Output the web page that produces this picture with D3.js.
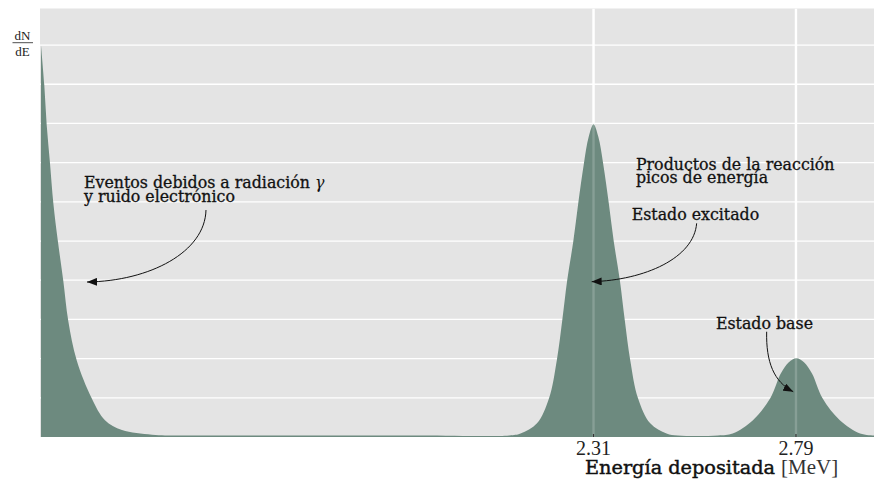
<!DOCTYPE html>
<html>
<head>
<meta charset="utf-8">
<script src="https://cdn.jsdelivr.net/npm/d3@7"></script>
<style>
  html, body { margin: 0; padding: 0; background: #ffffff; }
  svg { display: block; }
</style>
</head>
<body>
<script>
// ---------------- data ----------------
const energy = [
  1.000, 1.0078, 1.0135, 1.0213, 1.0292, 1.0396, 1.0529, 1.0647, 1.0846, 1.1202,
  1.1517, 1.1920, 1.2632, 1.33, 1.60, 1.90, 2.110,
  2.137, 2.176, 2.2045, 2.223, 2.2358, 2.2476, 2.2619, 2.2737, 2.2872, 2.2986, 2.31,
  2.3214, 2.3328, 2.3463, 2.3581, 2.3724, 2.3842, 2.397, 2.4155, 2.4444, 2.4831, 2.51,
  2.605, 2.640, 2.688, 2.729, 2.754, 2.773, 2.791, 2.809, 2.828, 2.853, 2.894, 2.942, 2.975
];
const counts = [
  10.0, 8.98, 7.96, 6.99, 5.97, 5.03, 3.98, 2.96, 1.96, 0.99,
  0.43, 0.18, 0.06, 0.04, 0.04, 0.04, 0.04,
  0.09, 0.35, 0.99, 1.96, 2.97, 4.0, 4.98, 5.96, 6.98, 7.66, 7.98,
  7.66, 6.98, 5.96, 4.98, 4.0, 2.97, 1.96, 0.99, 0.35, 0.09, 0.04,
  0.04, 0.09, 0.43, 0.99, 1.62, 1.91, 2.01, 1.91, 1.62, 0.99, 0.43, 0.09, 0.04
];
const xTickValues = [2.31, 2.79];
const xTickLabels = ["2.31", "2.79"];
const yGridValues = [1, 2, 3, 4, 5, 6, 7, 8, 9, 10];

const annotationTexts = [
  ["Eventos debidos a radiación ", "y ruido electrónico"],
  ["Productos de la reacción", "picos de energía"],
  ["Estado excitado"],
  ["Estado base"]
];
const annotationAnchors = [[1.1019, 6.35], [2.4106, 6.81], [2.4004, 5.54], [2.6003, 2.75]];
const arrowPaths = [
  [[1.3912, 5.791], [1.3888, 4.719], [1.2584, 3.980], [1.1091, 3.954]],
  [[2.5545, 5.452], [2.5481, 4.566], [2.4320, 4.005], [2.3056, 3.962]],
  [[2.7205, 2.686], [2.7188, 1.913], [2.7378, 1.403], [2.7836, 1.156]]
];

// ---------------- layout ----------------
const W = 874, H = 481;
const panel = { left: 40, right: 874, top: 8.5, bottom: 437 };

const x = d3.scaleLinear().domain([1.0, 2.975]).range([41, 874]);
const y = d3.scaleLinear().domain([0, 10.92]).range([437, 9]);

const svg = d3.select("body").append("svg")
  .attr("width", W).attr("height", H);

const defs = svg.append("defs");
defs.append("clipPath").attr("id", "clip")
  .append("rect")
  .attr("x", panel.left).attr("y", panel.top)
  .attr("width", panel.right - panel.left).attr("height", panel.bottom - panel.top);
defs.append("marker")
  .attr("id", "arrow")
  .attr("markerUnits", "userSpaceOnUse")
  .attr("viewBox", "0 0 10 8")
  .attr("refX", 10).attr("refY", 4)
  .attr("markerWidth", 10).attr("markerHeight", 8)
  .attr("orient", "auto")
  .append("path").attr("d", "M0,0 L10,4 L0,8 Z").attr("fill", "#111");

// panel background
svg.append("rect")
  .attr("x", panel.left).attr("y", panel.top)
  .attr("width", panel.right - panel.left).attr("height", panel.bottom - panel.top)
  .attr("fill", "#e4e4e4");

const g = svg.append("g").attr("clip-path", "url(#clip)");

// horizontal gridlines
g.selectAll("line.hgrid").data(yGridValues).enter().append("line")
  .attr("class", "hgrid")
  .attr("x1", panel.left).attr("x2", panel.right)
  .attr("y1", d => y(d)).attr("y2", d => y(d))
  .attr("stroke", "#ffffff").attr("stroke-width", 1.3);

// vertical gridlines
g.selectAll("line.vgrid").data(xTickValues).enter().append("line")
  .attr("class", "vgrid")
  .attr("x1", d => x(d)).attr("x2", d => x(d))
  .attr("y1", panel.top).attr("y2", panel.bottom)
  .attr("stroke", "#ffffff").attr("stroke-width", 2.4);

// area
const area = d3.area()
  .x((d, i) => x(energy[i]))
  .y0(y(0))
  .y1((d, i) => y(Math.max(0, counts[i])))
  .curve(d3.curveCatmullRom.alpha(0.5));

g.append("path")
  .datum(counts)
  .attr("d", area)
  .attr("fill", "#6d8a7f");

// vertical gridlines showing faintly through the fill
g.selectAll("line.vgrid2").data(xTickValues).enter().append("line")
  .attr("x1", d => x(d)).attr("x2", d => x(d))
  .attr("y1", panel.top).attr("y2", panel.bottom)
  .attr("stroke", "#ffffff").attr("stroke-opacity", 0.18).attr("stroke-width", 2.4);

// small tick marks at the bottom
svg.selectAll("line.tick").data(xTickValues).enter().append("line")
  .attr("x1", d => x(d)).attr("x2", d => x(d))
  .attr("y1", panel.bottom - 3).attr("y2", panel.bottom)
  .attr("stroke", "#333").attr("stroke-width", 1.2);

// tick labels
svg.selectAll("text.ticklab").data(xTickValues).enter().append("text")
  .attr("x", d => x(d)).attr("y", 455)
  .attr("text-anchor", "middle")
  .attr("font-family", "Liberation Serif, serif")
  .attr("font-size", 20)
  .attr("fill", "#222")
  .text((d, i) => xTickLabels[i]);

// x-axis title
const xt = svg.append("text")
  .attr("x", 585).attr("y", 474)
  .attr("fill", "#111");
xt.append("tspan")
  .attr("font-family", "DejaVu Serif, serif")
  .attr("font-size", 19.3)
  .attr("stroke", "#111").attr("stroke-width", 0.45)
  .text("Energía depositada");
xt.append("tspan")
  .attr("font-family", "Liberation Serif, serif")
  .attr("font-size", 21)
  .attr("fill", "#333")
  .attr("dx", 6)
  .text("[MeV]");

// y label dN/dE
const yl = svg.append("g");
yl.append("text").attr("x", 22.5).attr("y", 39.5)
  .attr("text-anchor", "middle")
  .attr("font-family", "Liberation Serif, serif").attr("font-size", 13)
  .attr("fill", "#222").text("dN");
yl.append("line").attr("x1", 12.5).attr("x2", 33).attr("y1", 42.7).attr("y2", 42.7)
  .attr("stroke", "#222").attr("stroke-width", 0.8);
yl.append("text").attr("x", 22.5).attr("y", 55.5)
  .attr("text-anchor", "middle")
  .attr("font-family", "Liberation Serif, serif").attr("font-size", 13)
  .attr("fill", "#222").text("dE");

// annotations
const lineGap = [13.8, 12.9, 0, 0];
annotationTexts.forEach((lines, k) => {
  const t = svg.append("text")
    .attr("x", x(annotationAnchors[k][0]))
    .attr("y", y(annotationAnchors[k][1]))
    .attr("font-family", "DejaVu Serif, serif")
    .attr("font-size", 15.8)
    .attr("fill", "#111")
    .attr("stroke", "#111").attr("stroke-width", 0.3);
  lines.forEach((ln, j) => {
    t.append("tspan")
      .attr("x", x(annotationAnchors[k][0]))
      .attr("dy", j === 0 ? 0 : lineGap[k])
      .text(ln);
    if (k === 0 && j === 0) {
      t.append("tspan").attr("font-style", "italic")
        .attr("stroke-width", 0)
        .text("γ");
    }
  });
});

// arrows
const arrowLine = p => {
  const q = p.map(d => [x(d[0]), y(d[1])]);
  return `M${q[0][0]},${q[0][1]} C${q[1][0]},${q[1][1]} ${q[2][0]},${q[2][1]} ${q[3][0]},${q[3][1]}`;
};
svg.selectAll("path.arrow").data(arrowPaths).enter().append("path")
  .attr("class", "arrow")
  .attr("d", arrowLine)
  .attr("fill", "none")
  .attr("stroke", "#111")
  .attr("stroke-width", 1)
  .attr("marker-end", "url(#arrow)");
</script>
</body>
</html>
